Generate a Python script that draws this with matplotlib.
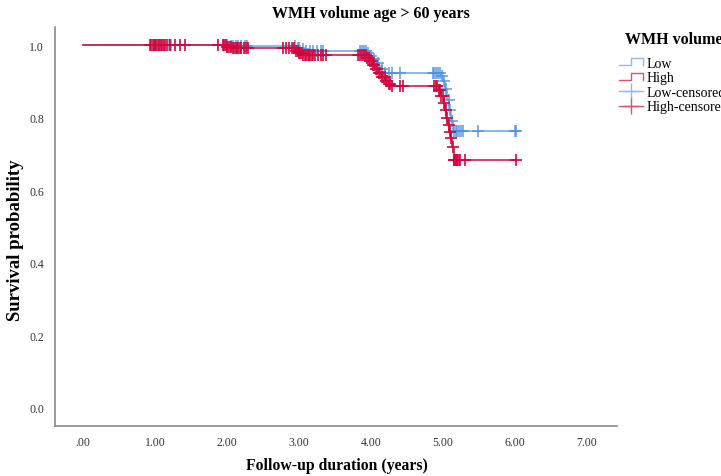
import numpy as np
import matplotlib
matplotlib.use("Agg")
import matplotlib.pyplot as plt
from matplotlib.lines import Line2D
from matplotlib.legend_handler import HandlerBase

# ---- data ----
low_event_t = [0.0, 2.05, 2.97, 3.02, 3.07, 3.95, 3.99, 4.03, 4.07, 4.11, 4.15, 4.20,
               4.97, 5.00, 5.03, 5.06, 5.09, 5.11, 5.14]
low_event_s = [1.0, 0.998, 0.993, 0.989, 0.984, 0.978, 0.970, 0.961, 0.952, 0.942, 0.933, 0.924,
               0.915, 0.900, 0.880, 0.850, 0.820, 0.790, 0.762]
low_end = 6.02

high_event_t = [0.0, 2.00, 2.08, 2.96, 3.00, 3.05, 3.94, 3.98, 4.02, 4.06, 4.10, 4.15, 4.20,
                4.25, 4.30, 4.94, 4.98, 5.01, 5.03, 5.05, 5.07, 5.09, 5.11, 5.13, 5.15]
high_event_s = [1.0, 0.996, 0.993, 0.985, 0.978, 0.972, 0.965, 0.955, 0.945, 0.934, 0.922, 0.912, 0.902,
                0.894, 0.888, 0.875, 0.860, 0.840, 0.820, 0.800, 0.780, 0.760, 0.745, 0.720, 0.684]
high_end = 6.02

low_censor_t = [1.00, 1.02, 1.05, 1.08, 1.12, 1.19, 1.22,
                1.97, 2.00, 2.05, 2.08, 2.12, 2.15, 2.20, 2.25, 2.28,
                2.95, 2.98, 3.00, 3.05, 3.10, 3.15, 3.20, 3.25, 3.30, 3.33,
                3.85, 3.88, 3.90, 3.93, 3.96, 4.00, 4.05, 4.10, 4.15, 4.20, 4.25, 4.30, 4.40,
                4.86, 4.88, 4.90, 4.93, 4.96, 4.99, 5.02, 5.05, 5.08, 5.10, 5.13,
                5.16, 5.18, 5.20, 5.22, 5.25, 5.28, 5.49, 6.00, 6.02]

high_censor_t = [0.93, 0.95, 0.97, 0.99, 1.00, 1.02, 1.04, 1.06, 1.08, 1.10, 1.12, 1.14, 1.16,
                 1.21, 1.28, 1.35, 1.42, 1.88,
                 1.94, 1.96, 1.98, 2.00, 2.02, 2.04, 2.06, 2.08, 2.10, 2.12, 2.14, 2.16, 2.18,
                 2.20, 2.23, 2.26, 2.29,
                 2.78, 2.82, 2.86, 2.90, 2.93, 2.96, 2.98, 3.00, 3.02, 3.04, 3.06, 3.08, 3.10,
                 3.12, 3.14, 3.16, 3.18, 3.20, 3.23, 3.26, 3.30, 3.33, 3.37,
                 3.82, 3.85, 3.88, 3.90, 3.93, 3.95, 3.97, 3.99, 4.01, 4.03, 4.05, 4.07, 4.09,
                 4.11, 4.13, 4.15, 4.17, 4.19, 4.21, 4.23, 4.25, 4.27, 4.30, 4.40, 4.45,
                 4.87, 4.90, 4.92, 4.94, 4.96, 4.98, 5.00, 5.02, 5.04, 5.06, 5.08, 5.10, 5.12,
                 5.14, 5.15, 5.16, 5.17, 5.18, 5.19, 5.20, 5.22, 5.24, 5.31, 6.02]

x_ticks = [0, 1, 2, 3, 4, 5, 6, 7]
x_tick_labels = [".00", "1.00", "2.00", "3.00", "4.00", "5.00", "6.00", "7.00"]
y_ticks = [0.0, 0.2, 0.4, 0.6, 0.8, 1.0]
y_tick_labels = ["0.0", "0.2", "0.4", "0.6", "0.8", "1.0"]

BLUE = "#4f93e0"
RED = "#d4063e"

plt.rcParams['font.family'] = ['Liberation Serif', 'DejaVu Serif']

fig = plt.figure(figsize=(7.21, 4.77), dpi=100)
ax = fig.add_axes([55/721, 1 - 427/477, (617-55)/721, (427-28)/477])


def step_value(ev_t, ev_s, t):
    idx = np.searchsorted(ev_t, t, side='right') - 1
    return np.asarray(ev_s)[idx]


for ev_t, ev_s, end, cens, col, alpha in [
        (low_event_t, low_event_s, low_end, low_censor_t, BLUE, 0.85),
        (high_event_t, high_event_s, high_end, high_censor_t, RED, 1.0)]:
    xs = list(ev_t) + [end]
    ys = list(ev_s) + [ev_s[-1]]
    ax.step(xs, ys, where='post', color=col, lw=1.1, alpha=alpha)
    cy = step_value(ev_t, ev_s, np.array(cens))
    ax.plot(cens, cy, linestyle='none', marker='+', markersize=8, mew=1.2,
            color=col, alpha=alpha)

ax.set_xlim(-0.39, 7.42)
ax.set_ylim(-0.05, 1.05)
ax.set_xticks(x_ticks)
ax.set_xticklabels(x_tick_labels)
ax.set_yticks(y_ticks)
ax.set_yticklabels(y_tick_labels)
ax.tick_params(length=0, labelsize=8.5, colors='#333333')
ax.tick_params(axis='x', pad=7)
ax.tick_params(axis='y', pad=8)
for s in ['top', 'right']:
    ax.spines[s].set_visible(False)
for s in ['left', 'bottom']:
    ax.spines[s].set_color('#8a8a8a')
    ax.spines[s].set_linewidth(1.2)

fig.text(337/721, 1 - 466/477, "Follow-up duration (years)", ha='center', va='center',
         fontsize=11.3, fontweight='bold')
fig.text(16/721, 1 - 240/477, "Survival probability", ha='center', va='center',
         rotation=90, fontsize=13.5, fontweight='bold')
fig.text(371/721, 1 - 14/477, "WMH volume age > 60 years", ha='center', va='center',
         fontsize=11.5, fontweight='bold')
fig.text(625/721, 1 - 40/477, "WMH volume", ha='left', va='center',
         fontsize=11.5, fontweight='bold')


class StepHandler(HandlerBase):
    def create_artists(self, legend, orig_handle, xdescent, ydescent, width, height,
                       fontsize, trans):
        c = orig_handle.get_color()
        x0, x1 = -xdescent, -xdescent + width
        xm = x0 + width * 0.5
        yl = -ydescent + height * 0.15
        yh = -ydescent + height * 0.85
        line = Line2D([x0, xm, xm, x1, x1], [yl, yl, yh, yh, yl], color=c, lw=1.0,
                      transform=trans)
        return [line]


h_low = Line2D([], [], color="#8fb8ee")
h_high = Line2D([], [], color="#e05070")
h_lowc = Line2D([], [], color="#8fb8ee", marker='+', markersize=12, lw=1.0, mew=1.0)
h_highc = Line2D([], [], color="#e05070", marker='+', markersize=12, lw=1.0, mew=1.0)

leg = fig.legend([h_low, h_high, h_lowc, h_highc],
                 ["Low", "High", "Low-censored", "High-censored"],
                 loc='upper left', bbox_to_anchor=(619/721, 1 - 57.5/477),
                 frameon=False, fontsize=10,
                 handler_map={h_low: StepHandler(), h_high: StepHandler()},
                 handlelength=1.73, handletextpad=0.22, labelspacing=0.12,
                 borderaxespad=0, borderpad=0)

fig.savefig("out.png", dpi=100)
